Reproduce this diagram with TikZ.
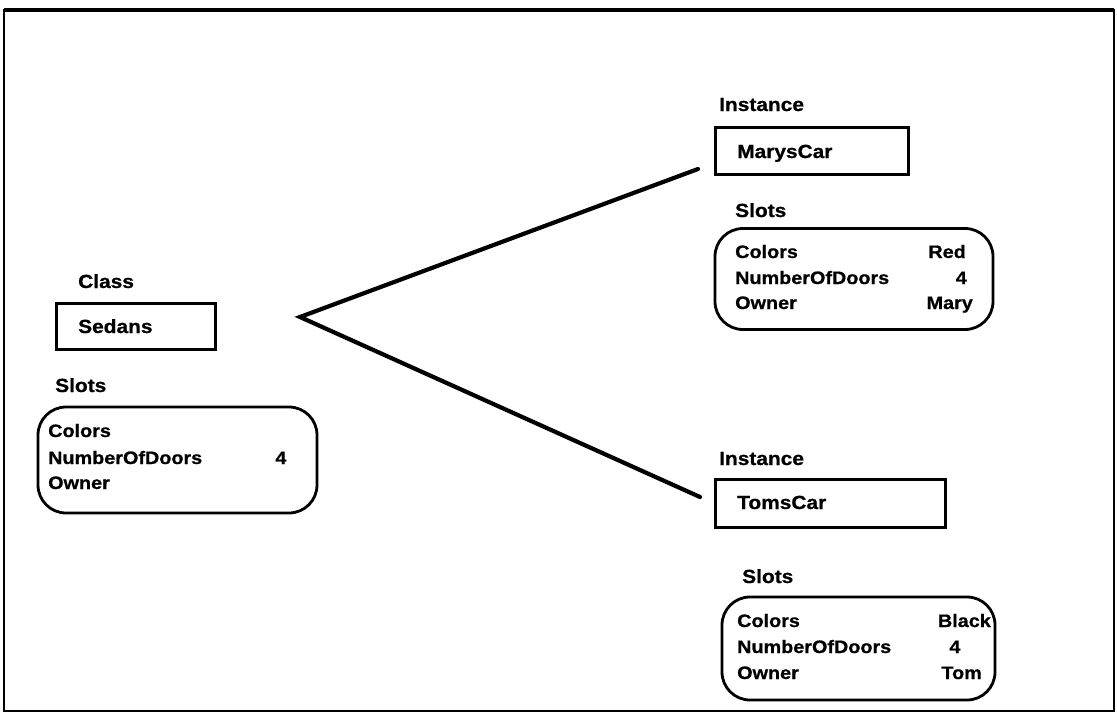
\documentclass[tikz,border=0pt]{standalone}
\usepackage{fontspec}
\setmainfont{Liberation Sans}[FakeStretch=1.1, FakeBold=0.8]
\begin{document}
\begin{tikzpicture}[x=1pt,y=-1pt,
  lbl/.style={anchor=base west, inner sep=0pt, font=\fontsize{19}{22}\selectfont\bfseries},
  slottext/.style={anchor=base west, inner sep=0pt, font=\fontsize{18}{22}\selectfont\bfseries},
  slotval/.style={slottext, anchor=base east},
  slotmid/.style={slottext, anchor=base},
  namebox/.style={draw, line width=3pt, rectangle, inner sep=0pt},
  slotbox/.style={draw, line width=2.8pt, rounded corners=28pt, inner sep=0pt},
  link/.style={line width=4.2pt, line cap=round}]
\useasboundingbox (0,0) rectangle (1117,715);
% outer frame, heavier along the top
\draw[line width=2.4pt] (4,10) rectangle (1114,711);
\draw[line width=4pt] (4,10) -- (1114,10);

% ---- class Sedans ----
\node[lbl] (classlbl) at (78,288) {Class};
\node[namebox, minimum width=159, minimum height=46] (sedans) at (135.5,326) {};
\node[lbl] (sedansname) at (78,333) {Sedans};
\node[lbl] (sedansslotlbl) at (55,392) {Slots};
\node[slotbox, minimum width=279, minimum height=106] (sedansslots) at (177.5,460) {};
\node[slottext] (s1) at (48,437) {Colors};
\node[slottext] (s2) at (48,464) {NumberOfDoors};
\node[slotmid] (s2v) at (281,464) {4};
\node[slottext] (s3) at (48,489) {Owner};

% ---- instance MarysCar ----
\node[lbl] (inst1lbl) at (719,111) {Instance};
\node[namebox, minimum width=193, minimum height=47] (marys) at (811.5,150.5) {};
\node[lbl] (marysname) at (737,158) {MarysCar};
\node[lbl] (marysslotlbl) at (735,217) {Slots};
\node[slotbox, minimum width=278, minimum height=101] (marysslots) at (854,279) {};
\node[slottext] (m1) at (735,258) {Colors};
\node[slotval] (m1v) at (966,258) {Red};
\node[slottext] (m2) at (735,284) {NumberOfDoors};
\node[slotval] (m2v) at (967,284) {4};
\node[slottext] (m3) at (735,309) {Owner};
\node[slotval] (m3v) at (973,309) {Mary};

% ---- instance TomsCar ----
\node[lbl] (inst2lbl) at (719,465) {Instance};
\node[namebox, minimum width=230, minimum height=48] (toms) at (830,503) {};
\node[lbl] (tomsname) at (737,509) {TomsCar};
\node[lbl] (tomsslotlbl) at (742,583) {Slots};
\node[slotbox, minimum width=273, minimum height=103] (tomsslots) at (858.5,648.5) {};
\node[slottext] (t1) at (737,627) {Colors};
\node[slotval] (t1v) at (991,627) {Black};
\node[slottext] (t2) at (737,653) {NumberOfDoors};
\node[slotmid] (t2v) at (955,653) {4};
\node[slottext] (t3) at (737,679) {Owner};
\node[slotval] (t3v) at (982,679) {Tom};

% ---- instance-of links ----
\coordinate (fork) at (300,317);
\coordinate (marysend) at (698,169);
\coordinate (tomsend) at (700,497);
\draw[link, line join=miter] (marysend) -- (fork) -- (tomsend);
\end{tikzpicture}
\end{document}
